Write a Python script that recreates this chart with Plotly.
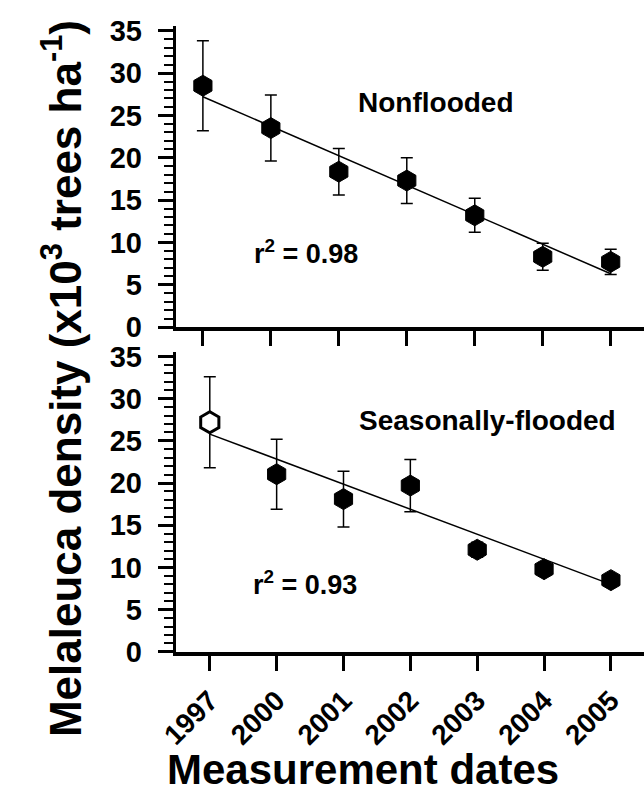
import plotly.graph_objects as go

# ---- data ----
years = ["1997", "2000", "2001", "2002", "2003", "2004", "2005"]
pos = list(range(len(years)))

non_mean = [28.5, 23.5, 18.35, 17.3, 13.2, 8.3, 7.7]
non_err = [5.3, 3.9, 2.75, 2.7, 2.0, 1.6, 1.5]
non_fit = [27.2, 6.3]          # regression line at 1997 and 2005
non_r2 = "0.98"

sea_mean = [27.2, 21.05, 18.1, 19.7, 12.1, 9.8, 8.5]
sea_err = [5.4, 4.15, 3.3, 3.1, 0.9, 0.8, 0.6]
sea_fit = [25.8, 8.0]
sea_r2 = "0.93"

yticks = [0, 5, 10, 15, 20, 25, 30, 35]

W, H = 644, 809
FONT = "Liberation Sans, Arial, sans-serif"


def px_x(p):
    return p / W


def px_y(p):
    return 1 - p / H


fig = go.Figure()

# top panel
fig.add_trace(go.Scatter(x=[pos[0], pos[-1]], y=non_fit, mode="lines",
                         line=dict(color="black", width=1.5),
                         xaxis="x", yaxis="y", hoverinfo="skip"))
fig.add_trace(go.Scatter(x=pos, y=non_mean, mode="markers",
                         marker=dict(symbol="hexagon", size=21, color="black",
                                     line=dict(color="black", width=1)),
                         error_y=dict(type="data", array=non_err, color="black",
                                      thickness=1.5, width=6),
                         xaxis="x", yaxis="y"))

# bottom panel
fig.add_trace(go.Scatter(x=[pos[0], pos[-1]], y=sea_fit, mode="lines",
                         line=dict(color="black", width=1.5),
                         xaxis="x2", yaxis="y2", hoverinfo="skip"))
fig.add_trace(go.Scatter(x=pos, y=sea_mean, mode="markers",
                         marker=dict(symbol="hexagon", size=21,
                                     color=["white"] + ["black"] * 6,
                                     line=dict(color="black", width=[3] + [1] * 6)),
                         error_y=dict(type="data", array=sea_err, color="black",
                                      thickness=1.5, width=6),
                         xaxis="x2", yaxis="y2"))

xdom = [px_x(163), 1.0]
common_x = dict(showline=True, linewidth=4, linecolor="black", ticks="outside",
                ticklen=15, tickwidth=3, tickcolor="black", showgrid=False,
                zeroline=False, tickvals=pos, ticktext=years)
common_y = dict(showline=True, linewidth=3, linecolor="black", ticks="outside",
                ticklen=15, tickwidth=3, tickcolor="black", showgrid=False,
                zeroline=False, range=[0, 35.5], tickvals=yticks,
                minor=dict(dtick=1, ticks="outside", ticklen=9, tickwidth=2,
                           tickcolor="black", showgrid=False),
                tickfont=dict(family=FONT, size=29, color="black", weight="bold"),
                ticklabelstandoff=10)

fig.update_layout(
    width=W, height=H,
    margin=dict(l=0, r=0, t=0, b=0),
    paper_bgcolor="white", plot_bgcolor="white",
    showlegend=False,
    font=dict(family=FONT, color="black"),
    xaxis=dict(domain=xdom, range=[-0.40, 6.49], anchor="y",
               showticklabels=False, **common_x),
    yaxis=dict(domain=[px_y(327), px_y(16)], anchor="x", **common_y),
    xaxis2=dict(domain=xdom, range=[-0.51, 6.495], anchor="y2",
                tickangle=-45, ticklabelstandoff=2,
                tickfont=dict(family=FONT, size=28, color="black", weight="bold"),
                **common_x),
    yaxis2=dict(domain=[px_y(663), px_y(353)], anchor="x2", **common_y),
)

ann = [
    dict(text="Nonflooded", x=px_x(430), y=px_y(95), size=28),
    dict(text="r<sup>2</sup> = " + non_r2, x=px_x(297), y=px_y(249), size=27),
    dict(text="Seasonally-flooded", x=px_x(483), y=px_y(424), size=28),
    dict(text="r<sup>2</sup> = " + sea_r2, x=px_x(296), y=px_y(592), size=27),
]
for a in ann:
    fig.add_annotation(text=a["text"], x=a["x"], y=a["y"], xref="paper", yref="paper",
                       xanchor="center", yanchor="middle", showarrow=False,
                       font=dict(family=FONT, size=a["size"], color="black", weight="bold"))

fig.add_annotation(text="Measurement dates", x=px_x(355), y=px_y(811),
                   xref="paper", yref="paper", xanchor="center", yanchor="bottom",
                   showarrow=False,
                   font=dict(family=FONT, size=42, color="black", weight="bold"))

fig.add_annotation(text="Melaleuca density (x10<sup>3</sup> trees ha<sup>-1</sup>)",
                   x=px_x(46), y=px_y(380), xref="paper", yref="paper",
                   xanchor="center", yanchor="middle", showarrow=False, textangle=-90,
                   font=dict(family=FONT, size=44, color="black", weight="bold"))

fig.write_html("out.html")
